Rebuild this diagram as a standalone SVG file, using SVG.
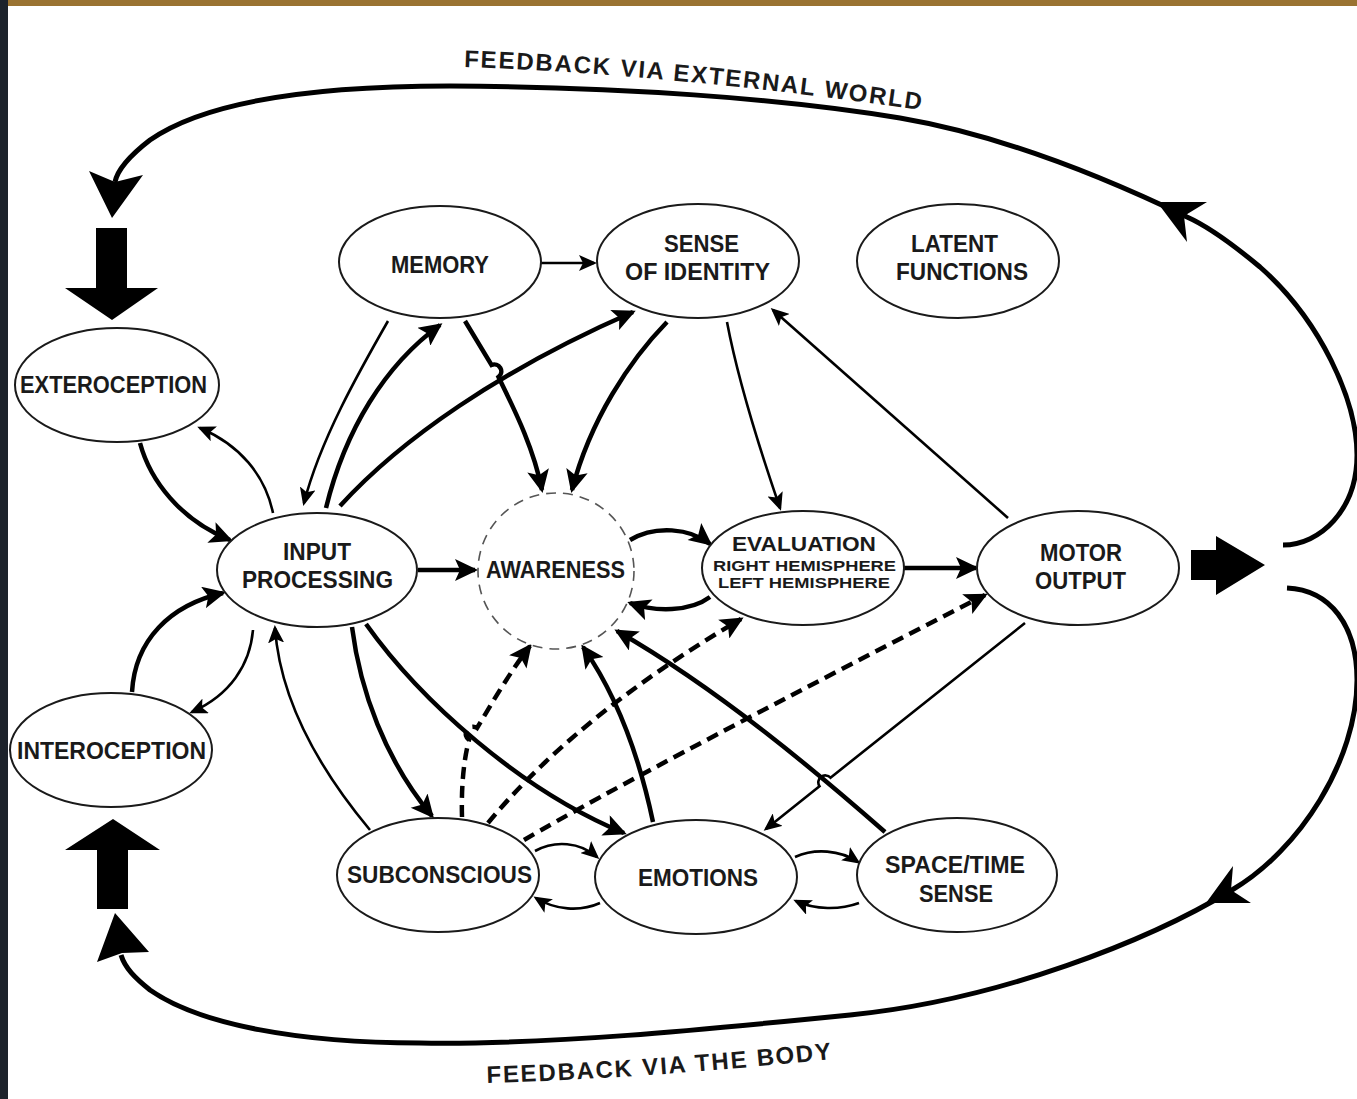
<svg xmlns="http://www.w3.org/2000/svg" width="1357" height="1099" viewBox="0 0 1357 1099">
<style>
.node ellipse{fill:#fff;stroke:#1a1a1a;stroke-width:2}
.lbl{font-family:"Liberation Sans",Arial,Helvetica,sans-serif;font-weight:bold;font-size:24px;fill:#1a1a1a}
.sm{font-size:15px}
.ev{font-size:21px}
.thick{fill:none;stroke:#000;stroke-width:4.5;marker-end:url(#ah)}
.thin{fill:none;stroke:#000;stroke-width:2.6;marker-end:url(#at)}
.dash{fill:none;stroke:#000;stroke-width:4.5;stroke-dasharray:12 7;marker-end:url(#ah)}
.fb{fill:none;stroke:#000;stroke-width:5}
.head{fill:#000}
.aw{fill:#fff;stroke:#555;stroke-width:1.6;stroke-dasharray:10 7}
.cap{font-family:"Liberation Sans",Arial,Helvetica,sans-serif;font-weight:bold;font-size:24px;letter-spacing:1.8px;fill:#1a1a1a}
</style>
<defs>
<marker id="ah" markerUnits="userSpaceOnUse" markerWidth="24" markerHeight="22" viewBox="0 0 24 22" refX="21" refY="11" orient="auto"><path d="M24,11 L1,0 L6,11 L1,22 Z" fill="#000"/></marker>
<marker id="at" markerUnits="userSpaceOnUse" markerWidth="18" markerHeight="16" viewBox="0 0 18 16" refX="15" refY="8" orient="auto"><path d="M18,8 L0,0 L4,8 L0,16 Z" fill="#000"/></marker>
<path id="tp1" d="M464,67 Q693,75 960,116"/>
<path id="tp2" d="M487,1083 Q661,1078 860,1056"/>
</defs>
<rect x="0" y="0" width="1357" height="1099" fill="#fff"/>
<rect x="0" y="0" width="1357" height="6" fill="#9a7332"/>
<rect x="0" y="0" width="8" height="1099" fill="#1d232b"/>

<g id="connectors">
  <!-- feedback loops -->
  <path class="fb" d="M1283,545 C1320,545 1357,510 1357,455 C1357,400 1320,320 1260,267 C1230,242 1205,225 1187,217 C1100,175 1000,135 900,118 C780,98 620,87 450,86 C300,86 200,105 150,140 C128,157 117,172 115,182"/>
  <polygon class="head" points="112,218 89,171 115,182 143,175"/>
  <polygon class="head" points="1157,202 1207,202 1184,216 1187,242"/>
  <path class="fb" d="M1287,588 C1330,590 1357,625 1357,680 C1357,760 1300,850 1232,890 C1150,940 1000,1000 850,1015 C700,1030 550,1045 420,1043 C300,1043 200,1025 150,990 C135,978 125,968 121,955"/>
  <polygon class="head" points="1206,903 1251,903 1231,890 1233,866"/>
  <polygon class="head" points="115,913 149,952 122,953 97,962"/>
  <polygon class="head" points="96,228 127,228 127,288 158,288 112,320 65,288 96,288"/>
  <polygon class="head" points="113,819 160,850 128,850 128,909 97,909 97,850 65,850"/>
  <polygon class="head" points="1191,550 1216,550 1216,536 1265,565 1216,595 1216,580 1191,580"/>

  <!-- inner connectors -->
  <path class="thin" d="M541,263 L594,263"/>
  <path class="thin" d="M388,321 C360,370 320,440 304,503"/>
  <path class="thick" d="M326,508 C345,430 385,365 440,325"/>
  <path class="thick" d="M340,506 C400,440 500,370 633,312"/>
  <path class="thick" d="M465,321 L491.5,365 A7,7 0 0 1 498.5,377 C512,405 533,445 542,490"/>
  <path class="thick" d="M667,322 C630,360 590,420 572,490"/>
  <path class="thin" d="M727,322 C738,380 760,450 780,508"/>
  <path class="thin" d="M1008,518 L773,310"/>
  <path class="thick" d="M140,443 C150,480 180,520 230,540"/>
  <path class="thin" d="M273,513 C265,475 240,445 200,428"/>
  <path class="thick" d="M132,692 C135,640 170,605 223,593"/>
  <path class="thin" d="M253,630 C250,665 230,695 192,712"/>
  <path class="thin" d="M370,830 C320,770 280,700 275,628"/>
  <path class="thick" d="M418,570 L475,570"/>
  <path class="thick" d="M352,627 C360,690 385,760 432,816"/>
  <path class="thick" d="M366,624 C420,700 520,790 624,833"/>
  <path class="thick" d="M630,540 C655,525 690,528 710,544"/>
  <path class="thick" d="M710,597 C690,612 655,612 630,603"/>
  <path class="thick" d="M904,568 L976,568"/>
  <path class="dash" d="M462,817 C461,780 465,755 469,740 A7,7 0 0 1 477,728 C492,703 510,672 530,646"/>
  <path class="dash" d="M488,823 C540,760 620,690 741,619"/>
  <path class="dash" d="M524,840 C600,795 800,690 985,595"/>
  <path class="thick" d="M653,822 C640,760 620,700 583,647"/>
  <path class="thick" d="M885,832 C820,775 720,690 617,631"/>
  <path class="thin" d="M1025,623 L830.5,777.7 A7,7 0 0 0 819.5,786.3 L766,829"/>
  <path class="thin" d="M535,851 C555,840 580,842 597,857"/>
  <path class="thin" d="M600,903 C580,912 555,910 536,898"/>
  <path class="thin" d="M795,857 C815,848 840,850 858,862"/>
  <path class="thin" d="M859,903 C840,910 815,910 796,901"/>

  <text class="cap"><textPath href="#tp1">FEEDBACK VIA EXTERNAL WORLD</textPath></text>
  <text class="cap"><textPath href="#tp2">FEEDBACK VIA THE BODY</textPath></text>
</g>

<g id="memory" class="node"><ellipse cx="440" cy="262" rx="101" ry="56"/><text class="lbl" x="391" y="273" textLength="98" lengthAdjust="spacingAndGlyphs">MEMORY</text></g>
<g id="sense-of-identity" class="node"><ellipse cx="698" cy="261" rx="101" ry="57"/><text class="lbl" x="664" y="252" textLength="75" lengthAdjust="spacingAndGlyphs">SENSE</text><text class="lbl" x="625" y="280" textLength="145" lengthAdjust="spacingAndGlyphs">OF IDENTITY</text></g>
<g id="latent-functions" class="node"><ellipse cx="958" cy="261" rx="101" ry="57"/><text class="lbl" x="911" y="252" textLength="87" lengthAdjust="spacingAndGlyphs">LATENT</text><text class="lbl" x="896" y="280" textLength="132" lengthAdjust="spacingAndGlyphs">FUNCTIONS</text></g>
<g id="exteroception" class="node"><ellipse cx="117" cy="385" rx="102" ry="57"/><text class="lbl" x="20" y="393" textLength="187" lengthAdjust="spacingAndGlyphs">EXTEROCEPTION</text></g>
<g id="interoception" class="node"><ellipse cx="111" cy="750" rx="101" ry="57"/><text class="lbl" x="17" y="759" textLength="189" lengthAdjust="spacingAndGlyphs">INTEROCEPTION</text></g>
<g id="input-processing" class="node"><ellipse cx="317" cy="570" rx="100" ry="57"/><text class="lbl" x="283" y="560" textLength="68" lengthAdjust="spacingAndGlyphs">INPUT</text><text class="lbl" x="242" y="588" textLength="151" lengthAdjust="spacingAndGlyphs">PROCESSING</text></g>
<g id="awareness" class="node"><circle class="aw" cx="556" cy="571" r="78"/><text class="lbl" x="486" y="578" textLength="139" lengthAdjust="spacingAndGlyphs">AWARENESS</text></g>
<g id="evaluation" class="node"><ellipse cx="803" cy="568" rx="101" ry="57"/><text class="lbl ev" x="732" y="551" textLength="144" lengthAdjust="spacingAndGlyphs">EVALUATION</text><text class="lbl sm" x="713" y="571" textLength="183" lengthAdjust="spacingAndGlyphs">RIGHT HEMISPHERE</text><text class="lbl sm" x="718" y="588" textLength="172" lengthAdjust="spacingAndGlyphs">LEFT HEMISPHERE</text></g>
<g id="motor-output" class="node"><ellipse cx="1078" cy="568" rx="101" ry="57"/><text class="lbl" x="1040" y="561" textLength="82" lengthAdjust="spacingAndGlyphs">MOTOR</text><text class="lbl" x="1035" y="589" textLength="91" lengthAdjust="spacingAndGlyphs">OUTPUT</text></g>
<g id="subconscious" class="node"><ellipse cx="438" cy="875" rx="101" ry="57"/><text class="lbl" x="347" y="883" textLength="185" lengthAdjust="spacingAndGlyphs">SUBCONSCIOUS</text></g>
<g id="emotions" class="node"><ellipse cx="696" cy="877" rx="101" ry="57"/><text class="lbl" x="638" y="886" textLength="120" lengthAdjust="spacingAndGlyphs">EMOTIONS</text></g>
<g id="space-time-sense" class="node"><ellipse cx="957" cy="875" rx="100" ry="57"/><text class="lbl" x="885" y="873" textLength="140" lengthAdjust="spacingAndGlyphs">SPACE/TIME</text><text class="lbl" x="919" y="902" textLength="74" lengthAdjust="spacingAndGlyphs">SENSE</text></g>
</svg>
